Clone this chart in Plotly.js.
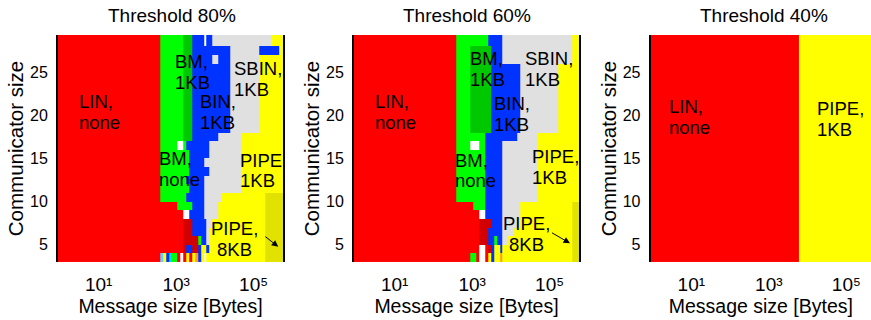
<!DOCTYPE html>
<html><head><meta charset="utf-8">
<script src="https://cdn.plot.ly/plotly-3.0.1.min.js"></script>
<style>html,body{margin:0;padding:0;background:#fff;overflow:hidden}#chart{width:871px;height:320px}</style>
</head><body><div id="chart"></div>
<script>
// ---------- data ----------
const panelTitles = ['Threshold 80%', 'Threshold 60%', 'Threshold 40%'];
// communicator sizes (rows) and their cell edges
const commSizes = [3,4,5,6,7,8,9,10,11,12,13,14,15,16,17,18,19,20,21,22,23,24,25,26,27,28,29];
const commEdges = [3,4,5,6,7,8,9,10,11,12,13,14,15,16,17,18,19,20,21,22,23,24,25,26,27,28,29,30];
// message-size cell edges [Bytes] (first cell holds everything below 384 B)
const msgEdges = [0.5, 384, 457, 543, 646, 768, 913, 1086, 1292, 1536, 1827, 2172, 2583, 3072,
  3653, 4344, 5166, 6144, 7306, 8689, 10333, 12288, 14613, 17378, 20666, 24576, 29226, 34756,
  41332, 49152, 58452, 69511, 82663, 98304, 116904, 139022, 165327, 196608, 233808, 278045,
  330654, 393216, 467615, 600000];
// algorithm / segment classes
const classCodes  = ['R','G','D','B','S','Y','P','W','K','L','C','O'];
const classNames  = ['LIN, none','BM, none','BM, 1KB','BIN, 1KB','SBIN, 1KB','PIPE, 1KB','PIPE, 8KB',
                     'other','LIN, other','BIN, other','BM, other','PIPE, other'];
const classColors = ['#FF0000','#00FF00','#00C800','#0033FF','#E0E0E0','#FFFF00','#E2E200',
                     '#FFFFFF','#D20000','#66CCFF','#00E0E0','#FF9933'];
// rows from communicator size 29 (top) down to 3 (bottom), run-length coded: class + count
const rows80 = [
  'R1 G8 D3 B4 W1 B2 S20 Y4',      // 29
  'R1 G8 D3 B4 W1 B2 S20 Y4',      // 28
  'R1 G8 D3 B13 S10 B7 Y1',        // 27
  'R1 G8 D3 B7 S2 B4 S10 Y8',      // 26
  'R1 G8 D3 B13 S10 Y8',           // 25
  'R1 G8 D3 B13 S10 Y8',           // 24
  'R1 G8 D3 B13 S10 Y8',           // 23
  'R1 G8 D3 B13 S10 Y8',           // 22
  'R1 G8 D3 B13 S10 Y8',           // 21
  'R1 G8 D3 B13 S10 Y8',           // 20
  'R1 G8 D3 B13 S10 Y8',           // 19
  'R1 G8 D3 B13 S10 Y8',           // 18
  'R1 G8 D3 B9 S8 Y14',            // 17
  'R1 G6 W2 G1 B8 S11 Y14',        // 16
  'R1 G10 B7 S11 Y14',             // 15
  'R1 G10 B5 S13 Y14',             // 14
  'R1 G10 B7 S11 Y14',             // 13
  'R1 G9 B6 S13 Y14',              // 12
  'R1 G10 B5 S13 Y14',             // 11
  'R1 G9 B6 S6 Y15 P6',            // 10
  'R7 G5 B4 S5 Y16 P6',            // 9
  'R9 W2 B5 S5 Y16 P6',            // 8
  'R9 K3 B5 S2 Y18 P6',            // 7
  'R9 K3 B5 S1 Y19 P6',            // 6
  'R9 K5 G1 B2 S1 Y19 P6',         // 5
  'R9 K1 B2 K2 B1 Y2 B1 Y19 P6',   // 4
  'R1 L1 Y1 B1 C1 G2 R1 W1 R1 Y1 R1 Y1 O1 B1 Y1 W1 Y20 P6' // 3
];
const rows60 = [
  'R1 G11 B5 S24 Y2',              // 29
  'R1 G11 B5 S24 Y2',              // 28
  'R1 G5 D7 B4 S24 Y2',            // 27
  'R1 G5 D7 B4 S24 Y2',            // 26
  'R1 G5 D7 B10 S13 Y7',           // 25
  'R1 G5 D7 B10 S13 Y7',           // 24
  'R1 G5 D7 B10 S13 Y7',           // 23
  'R1 G5 D7 B10 S13 Y7',           // 22
  'R1 G5 D7 B10 S13 Y7',           // 21
  'R1 G5 D7 B10 S13 Y7',           // 20
  'R1 G5 D7 B10 S13 Y7',           // 19
  'R1 G5 D7 B10 S13 Y7',           // 18
  'R1 G10 B11 S7 Y14',             // 17
  'R1 G5 W3 G2 B6 S12 Y14',        // 16
  'R1 G10 B6 S12 Y14',             // 15
  'R1 G10 B6 S12 Y14',             // 14
  'R1 G10 B6 S12 Y14',             // 13
  'R1 G10 B6 S12 Y14',             // 12
  'R1 G10 B6 S12 Y14',             // 11
  'R1 G10 B6 S12 Y14',             // 10
  'R7 G4 B6 S6 Y18 P2',            // 9
  'R9 W2 B6 S6 Y18 P2',            // 8
  'R9 K4 B4 S6 Y18 P2',            // 7
  'R9 K3 B5 S4 Y20 P2',            // 6
  'R9 K3 B2 G1 B2 S2 Y22 P2',      // 5
  'R9 W2 R1 K1 B1 Y2 B1 Y24 P2',   // 4
  'R6 G2 R1 W2 R1 Y1 B1 Y2 O1 Y24 P2' // 3
];
const rows40 = new Array(27).fill('R17 Y26');

// text labels: panel, lines, message size [B], communicator size, anchor
const labels = [
  {p:0, lines:['LIN,','none'],  msg:2.7,   comm:21.55, anchor:'left'},
  {p:0, lines:['BM,','1KB'],    msg:850,   comm:26.19, anchor:'left'},
  {p:0, lines:['BIN,','1KB'],   msg:3700,  comm:21.55, anchor:'left'},
  {p:0, lines:['SBIN,','1KB'],  msg:27000, comm:25.41, anchor:'left'},
  {p:0, lines:['BM,','none'],   msg:316,   comm:14.98, anchor:'left'},
  {p:0, lines:['PIPE','1KB'],   msg:40000, comm:14.78, anchor:'left'},
  {p:0, lines:['PIPE,','8KB'],  msg:32000, comm:6.87,  anchor:'center'},
  {p:1, lines:['LIN,','none'],  msg:2.7,   comm:21.55, anchor:'left'},
  {p:1, lines:['BM,','1KB'],    msg:800,   comm:26.57, anchor:'left'},
  {p:1, lines:['BIN,','1KB'],   msg:3200,  comm:21.35, anchor:'left'},
  {p:1, lines:['SBIN,','1KB'],  msg:21000, comm:26.57, anchor:'left'},
  {p:1, lines:['BM,','none'],   msg:318,   comm:14.78, anchor:'left'},
  {p:1, lines:['PIPE,','1KB'],  msg:31000, comm:15.18, anchor:'left'},
  {p:1, lines:['PIPE,','8KB'],  msg:26000, comm:7.45,  anchor:'center'},
  {p:2, lines:['LIN,','none'],  msg:2.3,   comm:20.97, anchor:'left'},
  {p:2, lines:['PIPE,','1KB'],  msg:15600, comm:20.78, anchor:'left'}
];
// arrows pointing at the PIPE, 8KB cells: head position and tail offset (px)
const arrows = [
  {p:0, msg:433000, comm:4.77, ax:-15, ay:-11.7},
  {p:1, msg:336000, comm:5.17, ax:-20, ay:-11.6}
];
const xTickVals = [10, 1000, 100000];
const xTickText = ['10\u00B9', '10\u00B3', '10\u2075'];
const yTickVals = [5, 10, 15, 20, 25];

// ---------- build ----------
function decode(rowSpec) {
  const out = [];
  rowSpec.trim().split(/\s+/).forEach(tok => {
    const code = tok[0], n = parseInt(tok.slice(1), 10);
    const idx = classCodes.indexOf(code);
    for (let i = 0; i < n; i++) out.push(idx);
  });
  return out;
}
function grid(rows) { return rows.map(decode).reverse(); } // bottom row first

const N = classCodes.length;
const colorscale = [];
classColors.forEach((c, i) => { colorscale.push([i / N, c]); colorscale.push([(i + 1) / N, c]); });

const FONT = 'Liberation Sans, Arial, Helvetica, sans-serif';
const allRows = [rows80, rows60, rows40];
const traces = allRows.map((rows, k) => ({
  type: 'heatmap',
  x: msgEdges, y: commEdges, z: grid(rows),
  zmin: -0.5, zmax: N - 0.5, colorscale: colorscale, showscale: false,
  zsmooth: false, hoverinfo: 'skip',
  xaxis: k === 0 ? 'x' : 'x' + (k + 1), yaxis: k === 0 ? 'y' : 'y' + (k + 1)
}));

const W = 871, H = 320;
const plotTop = 35, plotBottom = 262;
const yDom = [1 - plotBottom / H, 1 - plotTop / H];
const panelLeft = [58, 354, 650.7];
const panelWidth = 225;
const pxPerDecade = 38.75;
const logMin = -0.048;

const layout = {
  width: W, height: H, margin: {l: 0, r: 0, t: 0, b: 0},
  paper_bgcolor: '#fff', plot_bgcolor: '#fff', showlegend: false,
  font: {family: FONT, color: '#000', size: 16},
  annotations: []
};

for (let k = 0; k < 3; k++) {
  const left = panelLeft[k];
  const right = Math.min(left + panelWidth, W);
  const logMax = logMin + (right - left) / pxPerDecade;
  const sx = k === 0 ? '' : String(k + 1);
  layout['xaxis' + sx] = {
    domain: [left / W, right / W], anchor: 'y' + sx, type: 'log',
    range: [logMin, logMax], tickvals: xTickVals, ticktext: xTickText,
    ticks: '', showgrid: false, zeroline: false, showline: false,
    tickfont: {size: 19, family: FONT, color: '#000'}, ticklabelstandoff: 9,
    title: {text: 'Message size [Bytes]', font: {size: 19.5, family: FONT, color: '#000'}, standoff: 0},
    fixedrange: true
  };
  layout['yaxis' + sx] = {
    domain: yDom, anchor: 'x' + sx, range: [3, 29.3], tickvals: yTickVals,
    ticks: '', showgrid: false, zeroline: false,
    showline: true, linecolor: '#000', linewidth: 2, mirror: k < 2,
    tickfont: {size: 16, family: FONT, color: '#000'}, ticklabelstandoff: 5,
    title: {text: 'Communicator size', font: {size: 20.5, family: FONT, color: '#000'}, standoff: 1},
    fixedrange: true
  };
  // top frame line through an overlaying axis
  layout['xaxis' + (k + 4)] = {
    overlaying: 'x' + sx, anchor: 'y' + sx, side: 'top', type: 'log',
    range: [logMin, logMax], showline: true, linecolor: '#000', linewidth: 2,
    showticklabels: false, ticks: '', showgrid: false, zeroline: false, fixedrange: true
  };
}

// panel titles
const titleCenters = [172, 467, 764];
panelTitles.forEach((t, k) => {
  layout.annotations.push({
    text: t, xref: 'paper', yref: 'paper', x: titleCenters[k] / W, y: 1 - 15 / H,
    xanchor: 'center', yanchor: 'middle', showarrow: false,
    font: {size: 19, family: FONT, color: '#000'}
  });
});

// region labels
const lineGap = 20.5;
labels.forEach(l => {
  const sx = l.p === 0 ? '' : String(l.p + 1);
  l.lines.forEach((txt, i) => {
    layout.annotations.push({
      text: txt, xref: 'x' + sx, yref: 'y' + sx, x: Math.log10(l.msg), y: l.comm,
      yshift: -lineGap * i, xanchor: l.anchor, yanchor: 'middle', showarrow: false,
      font: {size: 18.5, family: FONT, color: '#000'}
    });
  });
});
arrows.forEach(a => {
  const sx = a.p === 0 ? '' : String(a.p + 1);
  layout.annotations.push({
    text: ' ', xref: 'x' + sx, yref: 'y' + sx, x: Math.log10(a.msg), y: a.comm,
    showarrow: true, ax: a.ax, ay: a.ay, arrowhead: 2, arrowsize: 1.3, arrowwidth: 1,
    arrowcolor: '#000', standoff: 0, startstandoff: 0, font: {size: 2}
  });
});

Plotly.newPlot('chart', traces, layout, {staticPlot: true, displayModeBar: false});
</script>
</body></html>
